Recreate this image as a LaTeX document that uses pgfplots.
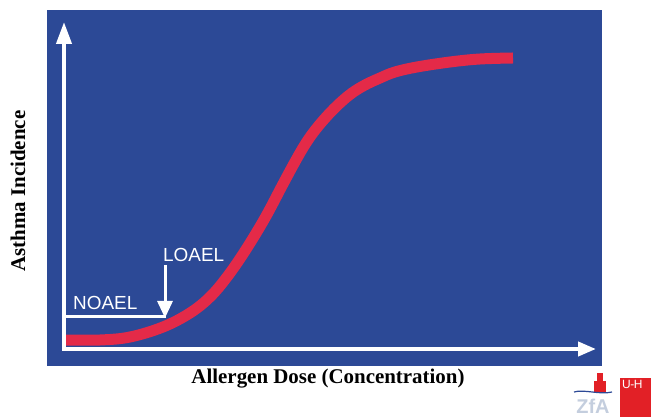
\documentclass[border=0pt]{standalone}
\usepackage{pgfplots}
\pgfplotsset{compat=1.18}
\usepackage{fontspec}
\setmainfont{Liberation Serif}
\newfontfamily\sansf{Liberation Sans}
\usetikzlibrary{arrows.meta}
\definecolor{bgblue}{RGB}{44,73,150}
\definecolor{curvered}{RGB}{228,42,72}
\definecolor{zfagray}{RGB}{196,206,222}
\definecolor{uhred}{RGB}{226,32,38}
\begin{document}
\begin{tikzpicture}
\path[use as bounding box] (0,0) rectangle (651bp,417bp);
\begin{axis}[
  at={(47bp,51bp)}, anchor=south west,
  scale only axis, width=555bp, height=356bp,
  xmin=47, xmax=602, ymin=51, ymax=407,
  axis line style={draw=none}, ticks=none,
  axis background/.style={fill=bgblue},
  clip=false,
]
% red dose-response curve
\addplot[curvered, line width=11bp, smooth, tension=0.6] coordinates {
(66,77) (100,77) (130,80) (163,90) (190,104) (210,120) (227,140)
(245,166) (265,199) (283,233) (296,257) (306,274) (316,288) (328,302)
(340,314) (352,324) (365,332) (380,339) (395,345) (417,350) (450,355) (480,358) (513,359)
};
% axes arrows
\addplot[white, line width=4bp, -{Triangle[length=22bp,width=15bp]}] coordinates {(64,66) (64,395)};
\addplot[white, line width=4bp, -{Triangle[length=18bp,width=14bp]}] coordinates {(62,68) (596,68)};
% NOAEL line
\addplot[white, line width=3bp] coordinates {(64,100) (166,100)};
% LOAEL arrow
\addplot[white, line width=3bp, -{Triangle[length=17bp,width=15bp]}] coordinates {(165,152) (165,99)};
\node[anchor=west, text=white, font=\sansf\fontsize{19}{20}\selectfont, inner sep=0pt] at (axis cs:73,114) {NOAEL};
\node[anchor=west, text=white, font=\sansf\fontsize{19}{20}\selectfont, inner sep=0pt] at (axis cs:163,162) {LOAEL};
% axis labels
\node[font=\bfseries\fontsize{21}{22}\selectfont, inner sep=0pt] at (axis cs:328,38) {Allergen Dose (Concentration)};
\node[font=\bfseries\fontsize{21}{23}\selectfont, inner sep=0pt, rotate=90] at (axis cs:18,226) {Asthma Incidence};
\end{axis}
% logos
\fill[uhred] (620bp,0) rectangle (651bp,39bp);
\node[anchor=north west, text=white, font=\sansf\fontsize{12}{12}\selectfont, inner sep=0pt] at (622bp,37bp) {U\kern-0.5pt-\kern-0.5ptH};
\node[anchor=base, text=zfagray, font=\sansf\bfseries\fontsize{20}{20}\selectfont, inner sep=0pt] at (593bp,4bp) {ZfA};
\fill[uhred] (594bp,25bp) rectangle (606bp,36bp);
\fill[uhred] (597bp,36bp) rectangle (603bp,44bp);
\draw[bgblue, line width=1.2bp] (574bp,25bp) .. controls (584bp,28bp) and (600bp,22bp) .. (612bp,25bp);
\end{tikzpicture}
\end{document}
